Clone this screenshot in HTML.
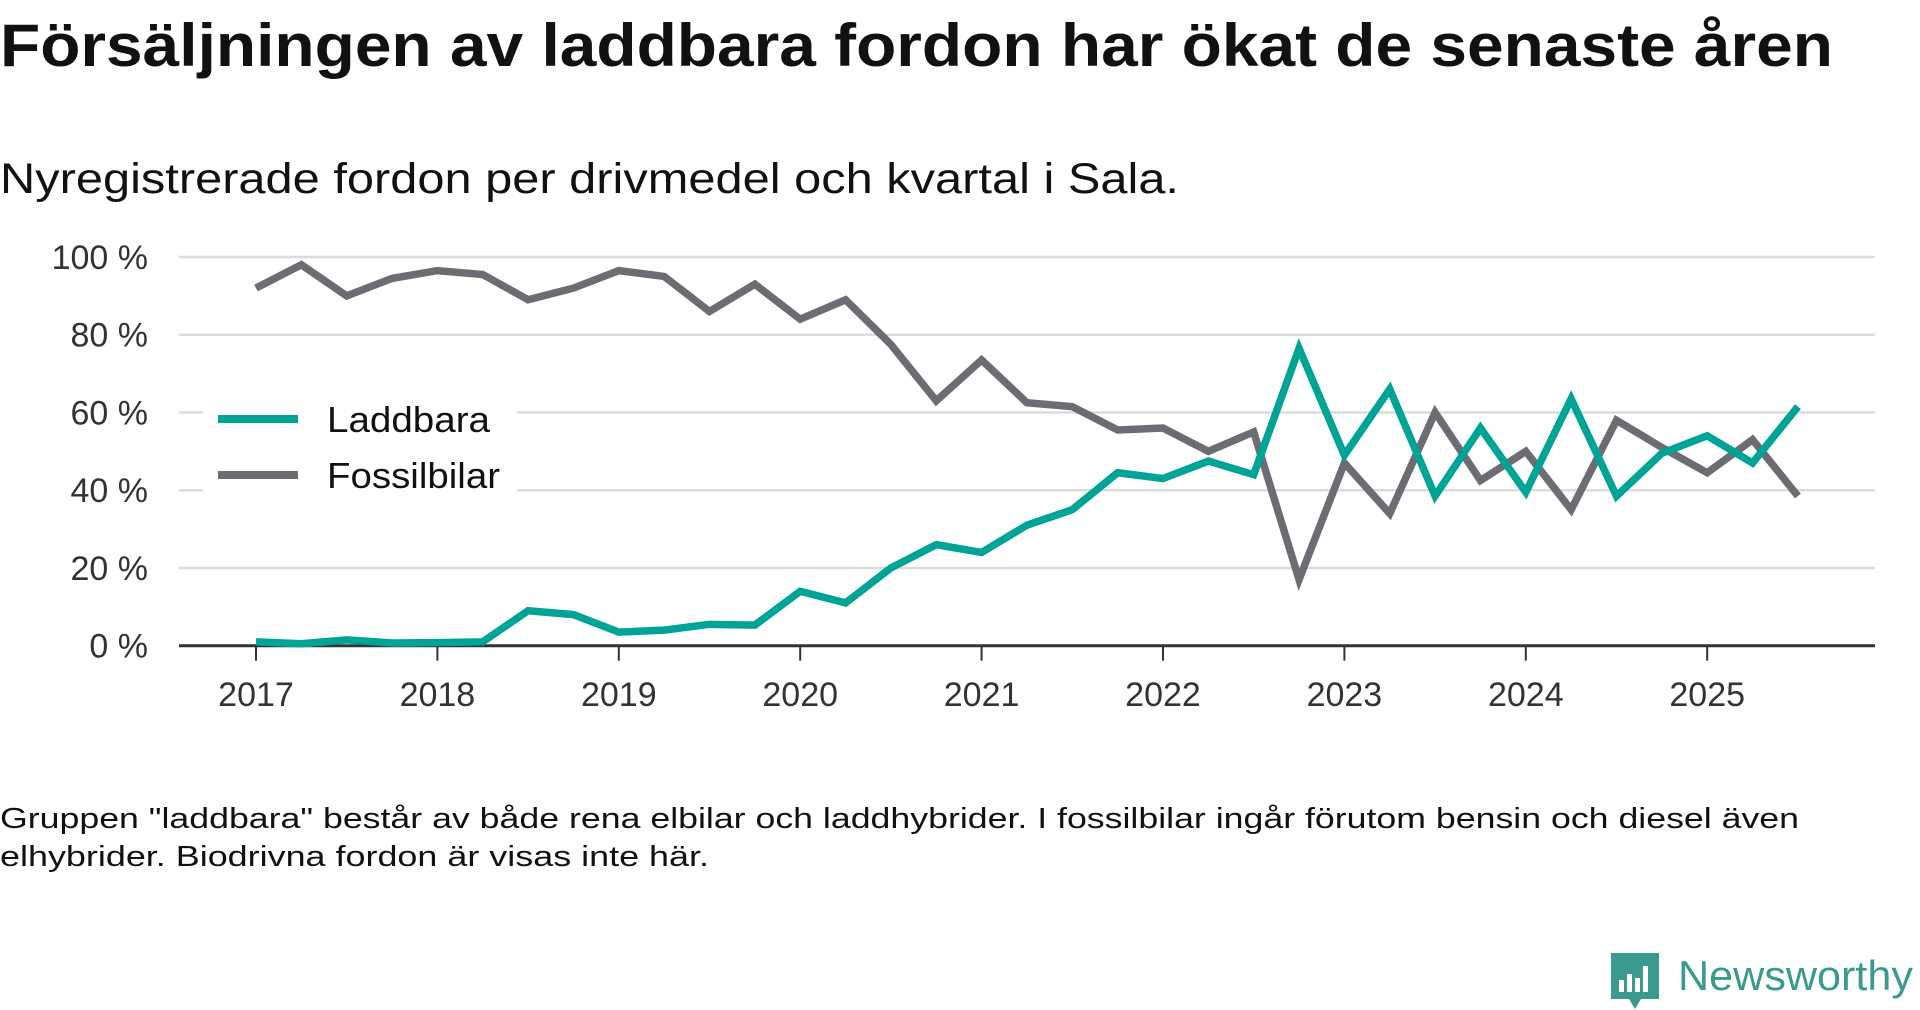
<!DOCTYPE html>
<html><head><meta charset="utf-8"><style>
html,body{margin:0;padding:0;background:#fff;}
svg{display:block;font-family:"Liberation Sans",sans-serif;}
</style></head><body>
<svg id="chart" width="1920" height="1010" viewBox="0 0 1920 1010">
<text x="0" y="66" font-size="60" font-weight="bold" fill="#111" textLength="1833" lengthAdjust="spacingAndGlyphs">Försäljningen av laddbara fordon har ökat de senaste åren</text>
<text x="0" y="193" font-size="43" fill="#111" textLength="1179" lengthAdjust="spacingAndGlyphs">Nyregistrerade fordon per drivmedel och kvartal i Sala.</text>
<g id="grid"></g>
<g id="lines"></g>
<g>
<rect x="203" y="398" width="314" height="102" fill="#fff"/>
<line x1="218" y1="419" x2="298" y2="419" stroke="#00a497" stroke-width="8"/>
<text x="327" y="432" font-size="36" fill="#111" textLength="163" lengthAdjust="spacingAndGlyphs">Laddbara</text>
<line x1="218" y1="475" x2="298" y2="475" stroke="#6d6c72" stroke-width="8"/>
<text x="327" y="488" font-size="36" fill="#111" textLength="173" lengthAdjust="spacingAndGlyphs">Fossilbilar</text>
</g>
<text x="0" y="828" font-size="29" fill="#111" textLength="1799" lengthAdjust="spacingAndGlyphs">Gruppen "laddbara" består av både rena elbilar och laddhybrider. I fossilbilar ingår förutom bensin och diesel även</text>
<text x="0" y="866" font-size="29" fill="#111" textLength="709" lengthAdjust="spacingAndGlyphs">elhybrider. Biodrivna fordon är visas inte här.</text>
<g>
<path d="M1611 953 h48 v46 h-18 l-6 10 l-6 -10 h-18 z" fill="#3a9a8e"/>
<rect x="1619" y="980" width="5" height="12" fill="#fff"/>
<rect x="1627" y="974" width="5" height="18" fill="#fff"/>
<rect x="1635" y="978" width="5" height="14" fill="#fff"/>
<rect x="1643" y="966" width="5" height="26" fill="#fff"/>
<text x="1678" y="990" font-size="42" fill="#3a9a8e" textLength="235" lengthAdjust="spacingAndGlyphs">Newsworthy</text>
</g>
</svg>
<script>
const years = [2017,2018,2019,2020,2021,2022,2023,2024,2025];
const yTicks = [0,20,40,60,80,100];
const yTickLabels = ["0 %","20 %","40 %","60 %","80 %","100 %"];
const laddbara = [1,0.5,1.5,0.7,0.8,1,9,8,3.5,4,5.5,5.3,14,11,20,26,24,31,35,44.5,43,47.5,44,76.5,49,66,38.5,56,39.5,63.5,38.5,49.5,54,47,61.5];
const fossil = [92,98,90,94.5,96.5,95.5,89,92,96.5,95,86,93,84,89,77.5,63,73.5,62.5,61.5,55.5,56,50,55,17,47,34,60,42.5,50,35,58,51,44.5,53,38.5];

const NS="http://www.w3.org/2000/svg";
const X0=256, YEARW=181.4, Y0=645.7, Y100=257;
function xq(i){return X0+i*YEARW/4;}
function xy(yr){return X0+(yr-years[0])*YEARW;}
function yv(v){return Y0-(Y0-Y100)*v/100;}
function mk(tag,attrs,parent){const e=document.createElementNS(NS,tag);for(const k in attrs)e.setAttribute(k,attrs[k]);parent.appendChild(e);return e;}
const grid=document.getElementById('grid');
yTicks.forEach((t,i)=>{
  if(t>0){const l=mk('line',{x1:179,x2:1875,y1:yv(t),y2:yv(t),stroke:'#dcdcdc','stroke-width':2.5},grid);
  
  }
  const tx=mk('text',{x:148,y:yv(t)+12,'font-size':34,fill:'#333','text-anchor':'end'},grid);
  tx.textContent=yTickLabels[i];
  
  
});
const ax=mk('line',{x1:179,x2:1875,y1:Y0,y2:Y0,stroke:'#333','stroke-width':3},grid);


years.forEach(yr=>{
  const x=xy(yr);
  const tk=mk('line',{x1:x,x2:x,y1:Y0,y2:Y0+15,stroke:'#333','stroke-width':2},grid);
  
  
  const tx=mk('text',{x:x,y:706,'font-size':34,fill:'#333','text-anchor':'middle'},grid);
  tx.textContent=yr;
  
  
});
const lines=document.getElementById('lines');
function series(data,color,name){
  const p=mk('polyline',{points:data.map((v,i)=>xq(i)+','+yv(v)).join(' '),fill:'none',stroke:color,'stroke-width':7.5,'stroke-linejoin':'miter'},lines);
  
  
}
series(fossil,'#6d6c72','fossilbilar-line');
series(laddbara,'#00a497','laddbara-line');
</script>
</body></html>
